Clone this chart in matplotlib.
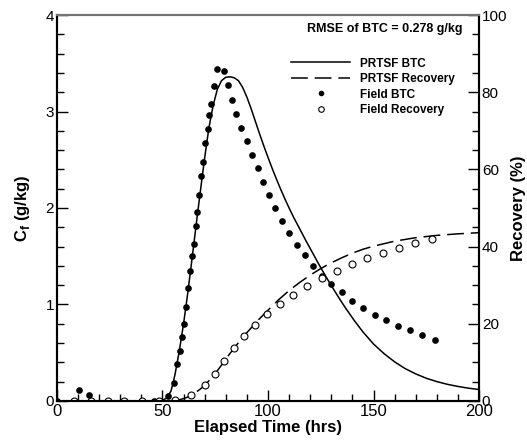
import numpy as np
import matplotlib.pyplot as plt
from matplotlib.ticker import MultipleLocator
from matplotlib.lines import Line2D

plt.rcParams['font.family'] = ['Liberation Sans', 'DejaVu Sans']
plt.rcParams['mathtext.fontset'] = 'custom'
plt.rcParams['mathtext.bf'] = 'Liberation Sans:bold'

# field breakthrough curve (g/kg)
field_t = [0, 10.3, 15, 45.8, 52.8, 55.3, 56.9, 58.3, 59.2, 60, 61.1, 62.2, 63.2, 64.1, 64.9,
           65.9, 66.5, 67.4, 68.2, 69.3, 70.3, 71.4, 72.2, 73.1, 74.4, 75.8, 79.3, 81.2, 82.9,
           84.8, 87.2, 89.9, 92.6, 95.1, 97.8, 100.6, 103.5, 106.8, 110.1, 113.6, 117.4, 121.5,
           125.6, 130, 134.9, 139.8, 145, 150.7, 156.1, 161.6, 167.4, 173, 179.3]
field_c = [0, 0.11, 0.06, 0, 0.055, 0.19, 0.38, 0.52, 0.66, 0.80, 0.97, 1.17, 1.35, 1.50, 1.63,
           1.81, 1.96, 2.13, 2.33, 2.48, 2.67, 2.82, 2.96, 3.08, 3.26, 3.44, 3.42, 3.27, 3.12,
           2.97, 2.83, 2.69, 2.55, 2.41, 2.27, 2.13, 2.00, 1.86, 1.74, 1.62, 1.51, 1.40,
           1.30, 1.21, 1.13, 1.04, 0.96, 0.89, 0.84, 0.78, 0.73, 0.68, 0.635]

# field recovery (%)
rec_t = [8, 16, 24, 31.9, 40.1, 48.3, 55.9, 63.7, 70, 74.9, 79.3, 83.9, 88.8, 94, 99.4, 105.7,
         112, 118.6, 125.4, 132.5, 139.8, 147.1, 154.6, 162.2, 169.8, 177.6]
rec_r = [0, 0, 0, 0, 0, 0, 0.2, 1.55, 4.1, 7.0, 10.4, 13.6, 16.7, 19.6, 22.4, 25.0,
         27.5, 29.8, 31.8, 33.7, 35.4, 37.0, 38.4, 39.7, 40.9, 42.0]

# PRTSF model BTC
mod_t = [0, 48, 50, 52, 54, 55, 56, 57, 58, 60, 62, 64, 66, 68, 70, 72, 74, 76, 78, 80, 82,
         84, 86, 88, 90, 92, 94, 96, 98, 100, 102, 104, 106, 108, 110, 112, 115, 118, 121,
         124, 127, 130, 134, 137, 141, 145, 150, 155, 160, 165, 170, 175, 180, 185, 190, 195, 200]
mod_c = [0, 0, 0.005, 0.03, 0.1, 0.18, 0.28, 0.4, 0.52, 0.8, 1.12, 1.47, 1.83, 2.18, 2.52,
         2.83, 3.06, 3.23, 3.32, 3.355, 3.36,
         3.35, 3.32, 3.25, 3.15, 3.03, 2.90, 2.77, 2.645, 2.525, 2.41, 2.30, 2.195, 2.095, 2.00,
         1.91, 1.785, 1.66, 1.54, 1.42, 1.305, 1.195, 1.055, 0.955, 0.83, 0.715, 0.59, 0.49,
         0.405, 0.335, 0.28, 0.235, 0.20, 0.172, 0.15, 0.132, 0.118]

# PRTSF model recovery
mrec_t = [0, 54, 56, 58, 60, 62, 64, 66, 68, 70, 72, 74, 76, 78, 80, 82, 84, 86, 88, 90, 92,
          94, 96, 98, 100, 105, 110, 115, 120, 125, 130, 135, 140, 145, 150, 160, 170, 180,
          190, 200]
mrec_r = [0, 0, 0.1, 0.3, 0.6, 1.0, 1.6, 2.3, 3.1, 4.1, 5.2, 6.4, 7.8, 9.3, 10.8, 12.3, 13.7,
          15.1, 16.4, 17.7, 18.9, 20.1, 21.3, 22.4, 23.5, 26.2, 28.6, 30.7, 32.6, 34.3, 35.8,
          37.1, 38.3, 39.3, 40.1, 41.4, 42.3, 42.9, 43.3, 43.6]

fig = plt.figure(figsize=(5.27, 4.43), dpi=100)
ax = fig.add_axes([0.108, 0.095, 0.801, 0.871])
ax2 = ax.twinx()

ax.plot(mod_t, mod_c, color='black', lw=1.1)
ax.plot(field_t, field_c, 'o', color='black', ms=4.8, mew=0)
ax2.plot(mrec_t, mrec_r, color='black', lw=1.1, dashes=(11, 4.5))
ax2.plot(rec_t, rec_r, 'o', mfc='white', mec='black', ms=5, mew=0.8)

ax.set_xlim(0, 200)
ax.set_ylim(0, 4)
ax2.set_ylim(0, 100)

ax.xaxis.set_major_locator(MultipleLocator(50))
ax.xaxis.set_minor_locator(MultipleLocator(10))
ax.yaxis.set_major_locator(MultipleLocator(1))
ax.yaxis.set_minor_locator(MultipleLocator(0.2))
ax2.yaxis.set_major_locator(MultipleLocator(20))
ax2.yaxis.set_minor_locator(MultipleLocator(5))

for a in (ax, ax2):
    a.tick_params(which='major', direction='in', length=8, width=1, labelsize=11, pad=2)
    a.tick_params(which='minor', direction='in', length=5, width=1)
    for s in a.spines.values():
        s.set_linewidth(1.5)
    a.spines['top'].set_color('0.45')
ax.tick_params(axis='x', labelsize=12)

ax.set_xlabel('Elapsed Time (hrs)', fontsize=12, fontweight='bold', labelpad=1)
ax.set_ylabel(r'C$_\mathbf{f}$ (g/kg)', fontsize=12, fontweight='bold', labelpad=10)
ax2.set_ylabel('Recovery (%)', fontsize=12, fontweight='bold', labelpad=3)

ax.text(0.96, 0.964, 'RMSE of BTC = 0.278 g/kg', transform=ax.transAxes,
        ha='right', va='center', fontsize=9, fontweight='bold')

handles = [Line2D([], [], color='black', lw=1.1),
           Line2D([], [], color='black', lw=1.1, dashes=(11, 4.5)),
           Line2D([], [], ls='none', marker='o', color='black', ms=4, mew=0),
           Line2D([], [], ls='none', marker='o', mfc='white', mec='black', ms=4, mew=0.8)]
labels = ['PRTSF BTC', 'PRTSF Recovery', 'Field BTC', 'Field Recovery']
ax.legend(handles, labels, loc='upper left', bbox_to_anchor=(0.555, 0.89), frameon=False,
          prop={'weight': 'bold', 'size': 8.5}, handlelength=5, handletextpad=0.8,
          labelspacing=0.3, borderpad=0, borderaxespad=0)

fig.savefig('out.png', dpi=100)
